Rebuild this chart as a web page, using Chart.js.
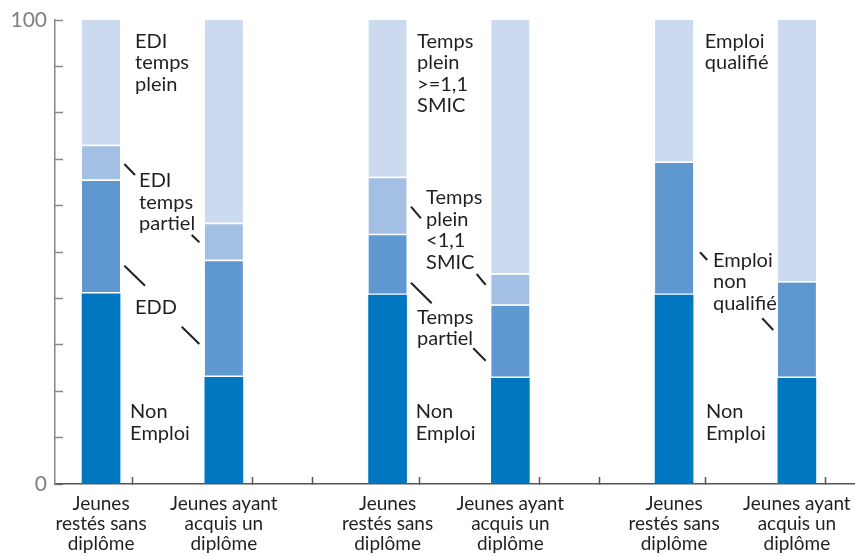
<!DOCTYPE html>
<html><head><meta charset="utf-8">
<script src="https://cdn.jsdelivr.net/npm/chart.js@4/dist/chart.umd.min.js"></script>
<style>html,body{margin:0;padding:0;background:#fff}canvas{display:block}</style>
</head><body>
<canvas id="c" width="855" height="556"></canvas>
<script>
// ---- data ----
const categories = [
  ['Jeunes', 'restés sans', 'diplôme'], ['Jeunes ayant', 'acquis un', 'diplôme'],
  ['Jeunes', 'restés sans', 'diplôme'], ['Jeunes ayant', 'acquis un', 'diplôme'],
  ['Jeunes', 'restés sans', 'diplôme'], ['Jeunes ayant', 'acquis un', 'diplôme']
];
const groupOfBar = [0, 0, 1, 1, 2, 2];
const memberOfBar = [0, 1, 0, 1, 0, 1];
const nonEmploi = [41.0, 23.0, 40.7, 22.8, 40.7, 22.8];          // Non Emploi
const niveau2 = [24.3, 25.0, 12.9, 15.6, 28.5, 20.6];            // EDD / Temps partiel / Emploi non qualifié
const niveau3 = [7.5, 8.0, 12.3, 6.7, null, null];               // EDI temps partiel / Temps plein <1,1 SMIC
const niveau4 = [27.2, 44.0, 34.1, 54.9, 30.8, 56.6];            // EDI temps plein / Temps plein >=1,1 SMIC / Emploi qualifié
const yTickLabels = [0, 100];

// ---- layout (slot units on a linear x scale) ----
const GROUP_STEP = 7, MEMBER_STEP = 3;
const xPos = groupOfBar.map((g, i) => g * GROUP_STEP + memberOfBar[i] * MEMBER_STEP);
const boundaryTicks = [];
[0, 1, 2].forEach(g => {
  const b = g * GROUP_STEP;
  if (g > 0) boundaryTicks.push(b - 1.05);
  boundaryTicks.push(b + 1.55, b + 4.4);
});
const X_MIN = -1.125, X_MAX = 18.42;

// annotations: text anchored (left, first baseline) in data units
const annotations = [
  { lines: ['EDI', 'temps', 'plein'], x: 0.83, y: 94 },
  { lines: ['EDI', 'temps', 'partiel'], x: 0.93, y: 64 },
  { lines: ['EDD'], x: 0.83, y: 36.6 },
  { lines: ['Non', 'Emploi'], x: 0.71, y: 14.2 },
  { lines: ['Temps', 'plein', '>=1,1', 'SMIC'], x: 7.72, y: 94 },
  { lines: ['Temps', 'plein', '<1,1', 'SMIC'], x: 7.94, y: 60.3 },
  { lines: ['Temps', 'partiel'], x: 7.72, y: 34.5 },
  { lines: ['Non', 'Emploi'], x: 7.69, y: 14.2 },
  { lines: ['Emploi', 'qualifié'], x: 14.75, y: 94 },
  { lines: ['Emploi', 'non', 'qualifié'], x: 14.95, y: 46.8 },
  { lines: ['Non', 'Emploi'], x: 14.78, y: 14.2 }
];
const leaders = [
  [0.569, 68.97, 0.830, 66.59],
  [2.215, 53.66, 2.401, 52.09],
  [0.569, 47.05, 1.075, 42.74],
  [1.971, 33.90, 2.401, 30.17],
  [7.572, 59.76, 7.816, 57.26],
  [9.177, 45.26, 9.397, 42.89],
  [7.572, 43.38, 8.078, 38.94],
  [9.094, 29.25, 9.397, 26.57],
  [14.635, 49.94, 14.809, 48.28],
  [16.153, 35.71, 16.422, 33.19]
];

const annotPlugin = {
  id: 'annot',
  afterDatasetsDraw(chart) {
    const { ctx, scales: { x, y } } = chart;
    ctx.save();
    ctx.font = '20px Lato';
    ctx.fillStyle = '#231f20';
    ctx.textAlign = 'left';
    ctx.textBaseline = 'alphabetic';
    annotations.forEach(a => {
      const px = x.getPixelForValue(a.x), py = y.getPixelForValue(a.y);
      a.lines.forEach((t, k) => ctx.fillText(t, px, py + k * 21.5));
    });
    ctx.strokeStyle = '#231f20';
    ctx.lineWidth = 2;
    leaders.forEach(l => {
      ctx.beginPath();
      ctx.moveTo(x.getPixelForValue(l[0]), y.getPixelForValue(l[1]));
      ctx.lineTo(x.getPixelForValue(l[2]), y.getPixelForValue(l[3]));
      ctx.stroke();
    });
    ctx.restore();
  }
};

const toPts = arr => arr.map((v, i) => ({ x: xPos[i], y: v }));
const sep = { top: 0, left: 0, right: 0, bottom: 2 };

new Chart(document.getElementById('c'), {
  type: 'bar',
  data: {
    datasets: [
      { label: 'Non Emploi', data: toPts(nonEmploi), backgroundColor: '#0077c0', borderWidth: 0 },
      { label: 'Niveau 2', data: toPts(niveau2), backgroundColor: '#5f97d0', borderColor: '#ffffff', borderWidth: sep, borderSkipped: false },
      { label: 'Niveau 3', data: toPts(niveau3), backgroundColor: '#a3bfe3', borderColor: '#ffffff', borderWidth: sep, borderSkipped: false },
      { label: 'Niveau 4', data: toPts(niveau4), backgroundColor: '#cbdaee', borderColor: '#ffffff', borderWidth: sep, borderSkipped: false }
    ]
  },
  options: {
    responsive: false,
    animation: false,
    devicePixelRatio: 1,
    barThickness: 38,
    layout: { padding: { top: 20, right: 0, bottom: 0, left: 0 } },
    plugins: { legend: { display: false }, tooltip: { enabled: false } },
    scales: {
      x: {
        type: 'linear', min: X_MIN, max: X_MAX, stacked: true, offset: false,
        afterBuildTicks: s => {
          s.ticks = [...xPos, ...boundaryTicks].sort((a, b) => a - b).map(v => ({ value: v }));
        },
        afterFit: s => { s.height = 72; s.paddingLeft = 0; s.paddingRight = 0; },
        ticks: {
          autoSkip: false, maxRotation: 0, minRotation: 0, padding: 17,
          font: { family: 'Lato', size: 19, lineHeight: 1.05 }, color: '#231f20',
          callback: v => { const i = xPos.indexOf(v); return i >= 0 ? categories[i] : ''; }
        },
        grid: {
          drawOnChartArea: false, drawTicks: true, tickLength: -7, tickWidth: 1.5,
          tickColor: ctx => (ctx.tick && xPos.indexOf(ctx.tick.value) < 0) ? '#555555' : 'rgba(0,0,0,0)'
        },
        border: { color: '#555555', width: 1.5 }
      },
      y: {
        type: 'linear', min: 0, max: 100, stacked: true,
        afterFit: s => { s.width = 55; s.paddingTop = 0; s.paddingBottom = 0; },
        ticks: {
          stepSize: 10, padding: 16, font: { family: 'Lato', size: 21 }, color: '#808080',
          callback: v => yTickLabels.includes(v) ? String(v) : ''
        },
        grid: { drawOnChartArea: false, tickLength: -8, tickWidth: 1.5, tickColor: '#888888' },
        border: { color: '#888888', width: 1.5 }
      }
    }
  },
  plugins: [annotPlugin]
});
</script>
</body></html>
